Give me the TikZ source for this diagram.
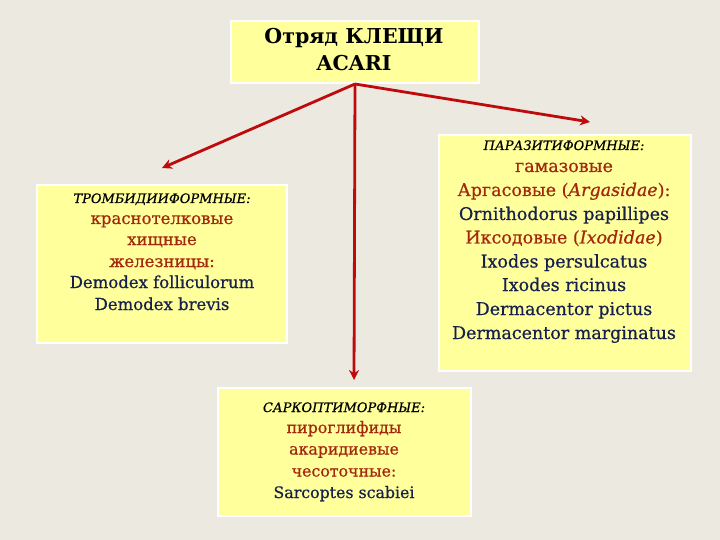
\documentclass[tikz,border=0pt]{standalone}
\usepackage{fontspec}
\setmainfont{DejaVu Serif}[FakeBold=0.6]
\newfontfamily\topfont{DejaVu Serif Bold}
\usetikzlibrary{arrows.meta}
\definecolor{bg}{HTML}{ECE9E1}
\definecolor{boxy}{HTML}{FFFF9C}
\definecolor{redt}{HTML}{A3260E}
\definecolor{navy}{HTML}{15204D}
\definecolor{arr}{HTML}{BE0A0A}
\begin{document}
\begin{tikzpicture}[x=1pt,y=-1pt,
  box/.style={draw=white, line width=2pt, fill=boxy, inner sep=0pt, anchor=north west},
  ln/.style={anchor=base, inner sep=0pt},
  hdr/.style={ln, font=\fontsize{13}{15}\selectfont\itshape, text=black},
  rbig/.style={ln, font=\fontsize{17.5}{20}\selectfont},
  lbig/.style={ln, font=\fontsize{16.5}{19}\selectfont},
  bbig/.style={ln, font=\fontsize{15.8}{18}\selectfont},
  topt/.style={ln, font=\topfont\fontsize{20.5}{24}\selectfont, text=black},
  arrow/.style={draw=arr, line width=2.8pt, -{Stealth[length=10pt,width=10pt]}}]
\fill[bg] (0,0) rectangle (720,540);
\useasboundingbox (0,0) rectangle (720,540);
% boxes
\node[box, minimum width=248pt, minimum height=62pt] (top) at (230,20) {};
\node[box, minimum width=250pt, minimum height=158pt] (left) at (36,184) {};
\node[box, minimum width=252pt, minimum height=236pt] (right) at (438,134) {};
\node[box, minimum width=253pt, minimum height=128pt] (bottom) at (217,387) {};
% top text
\node[topt] (t1) at (354,44) {Отряд КЛЕЩИ};
\node[topt] (t2) at (354,71) {ACARI};
% left text
\node[hdr] (l0) at (162,203) {ТРОМБИДИИФОРМНЫЕ:};
\node[lbig, text=redt] (l1) at (162,224) {краснотелковые};
\node[lbig, text=redt] (l2) at (162,245) {хищные};
\node[lbig, text=redt] (l3) at (162,267) {железницы:};
\node[lbig, text=navy] (l4) at (162,288) {Demodex folliculorum};
\node[lbig, text=navy] (l5) at (162,310) {Demodex brevis};
% right text
\node[hdr] (r0) at (564,150) {ПАРАЗИТИФОРМНЫЕ:};
\node[rbig, text=redt] (r1) at (564,172) {гамазовые};
\node[rbig, text=redt] (r2) at (564,196) {Аргасовые (\textit{Argasidae}):};
\node[rbig, text=navy] (r3) at (564,220) {Ornithodorus papillipes};
\node[rbig, text=redt] (r4) at (564,243.5) {Иксодовые (\textit{Ixodidae})};
\node[rbig, text=navy] (r5) at (564,267.5) {Ixodes persulcatus};
\node[rbig, text=navy] (r6) at (564,291) {Ixodes ricinus};
\node[rbig, text=navy] (r7) at (564,315) {Dermacentor pictus};
\node[rbig, text=navy] (r8) at (564,339) {Dermacentor marginatus};
% bottom text
\node[hdr] (b0) at (344,412) {САРКОПТИМОРФНЫЕ:};
\node[bbig, text=redt] (b1) at (344,433) {пироглифиды};
\node[bbig, text=redt] (b2) at (344,454.5) {акаридиевые};
\node[bbig, text=redt] (b3) at (344,476.5) {чесоточные:};
\node[bbig, text=navy] (b4) at (344,498) {Sarcoptes scabiei};
% arrows
\coordinate (lt) at (162,168);
\coordinate (rt) at (590,122);
\coordinate (bt) at (354,380);
\draw[arrow] (top.south) -- (lt);
\draw[arrow] (top.south) -- (rt);
\draw[arrow] (top.south) -- (bt);
\end{tikzpicture}
\end{document}
